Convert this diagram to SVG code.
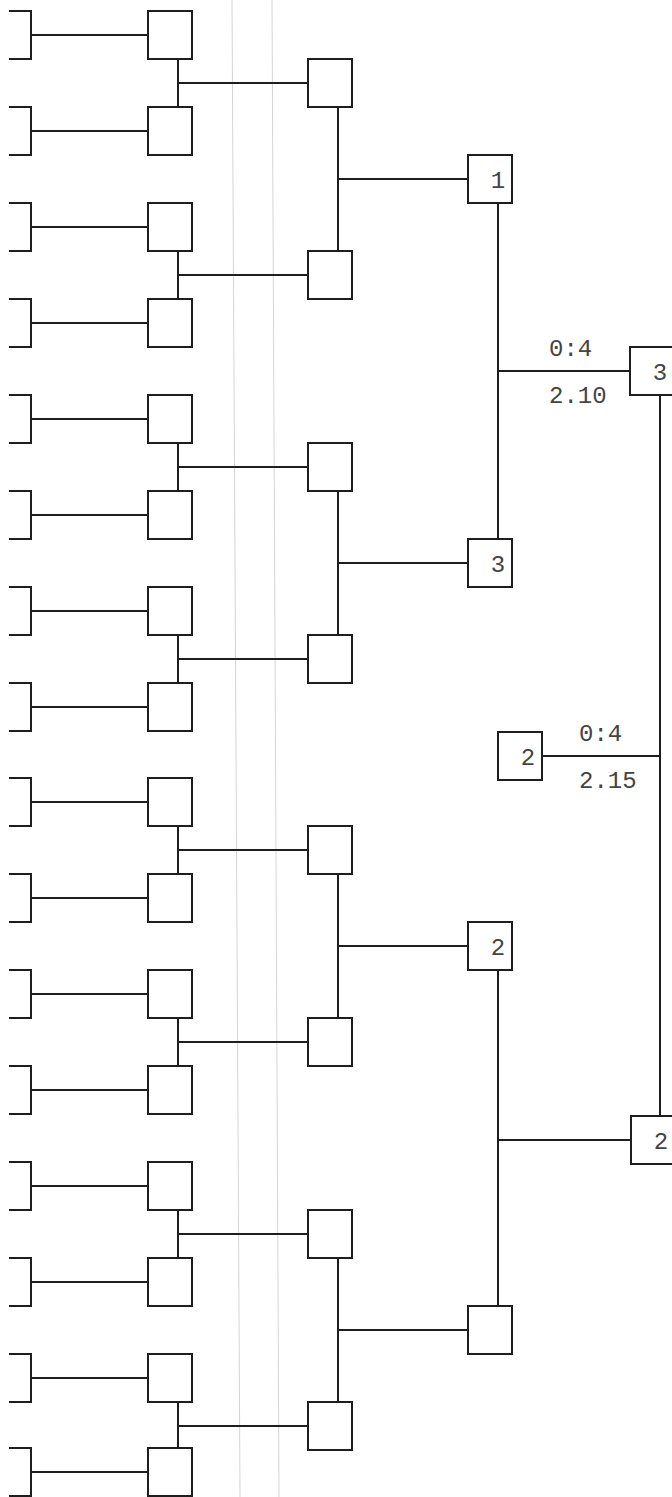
<svg xmlns="http://www.w3.org/2000/svg" width="672" height="1497" viewBox="0 0 672 1497">
<style>
.bg{fill:#ffffff}
.fold{stroke:#d4d4d4;stroke-width:1;fill:none}
.ln{stroke:#1e1e1e;stroke-width:2;fill:none}
.box{fill:#ffffff;stroke:#1e1e1e;stroke-width:2}
.num{font-family:"Liberation Mono","DejaVu Sans Mono",monospace;font-size:24px;fill:#444444;text-anchor:middle}
.lbl{font-family:"Liberation Mono","DejaVu Sans Mono",monospace;font-size:24px;fill:#444444}
</style>
<defs>
<rect id="b" width="44" height="48"/>
<path id="br" d="M9,0H31V48H9M31,24H148"/>
</defs>
<rect class="bg" x="0" y="0" width="672" height="1497"/>
<line class="fold" x1="232" y1="0" x2="240" y2="1497"/>
<line class="fold" x1="272" y1="0" x2="279" y2="1497"/>
<g id="connectors">
<use href="#br" class="ln" x="0" y="11"/>
<use href="#br" class="ln" x="0" y="107"/>
<use href="#br" class="ln" x="0" y="203"/>
<use href="#br" class="ln" x="0" y="299"/>
<use href="#br" class="ln" x="0" y="395"/>
<use href="#br" class="ln" x="0" y="491"/>
<use href="#br" class="ln" x="0" y="587"/>
<use href="#br" class="ln" x="0" y="683"/>
<use href="#br" class="ln" x="0" y="778"/>
<use href="#br" class="ln" x="0" y="874"/>
<use href="#br" class="ln" x="0" y="970"/>
<use href="#br" class="ln" x="0" y="1066"/>
<use href="#br" class="ln" x="0" y="1162"/>
<use href="#br" class="ln" x="0" y="1258"/>
<use href="#br" class="ln" x="0" y="1354"/>
<use href="#br" class="ln" x="0" y="1448"/>
<path class="ln" d="M178,59V107M178,83H308"/>
<path class="ln" d="M178,251V299M178,275H308"/>
<path class="ln" d="M178,443V491M178,467H308"/>
<path class="ln" d="M178,635V683M178,659H308"/>
<path class="ln" d="M178,826V874M178,850H308"/>
<path class="ln" d="M178,1018V1066M178,1042H308"/>
<path class="ln" d="M178,1210V1258M178,1234H308"/>
<path class="ln" d="M178,1402V1448M178,1426H308"/>
<path class="ln" d="M338,107V251M338,179H468"/>
<path class="ln" d="M338,491V635M338,563H468"/>
<path class="ln" d="M338,874V1018M338,946H468"/>
<path class="ln" d="M338,1258V1402M338,1330H468"/>
<path class="ln" d="M498,203V539M498,371H630"/>
<path class="ln" d="M498,970V1306M498,1140H631"/>
<path class="ln" d="M660,395V1116"/>
<path class="ln" d="M542,756H660"/>
<text class="lbl" x="549" y="356">0:4</text>
<text class="lbl" x="549" y="403">2.10</text>
<text class="lbl" x="579" y="741">0:4</text>
<text class="lbl" x="579" y="788">2.15</text>
</g>
<g id="r1">
<g id="r1-1"><use href="#b" class="box" x="148" y="11"/></g>
<g id="r1-2"><use href="#b" class="box" x="148" y="107"/></g>
<g id="r1-3"><use href="#b" class="box" x="148" y="203"/></g>
<g id="r1-4"><use href="#b" class="box" x="148" y="299"/></g>
<g id="r1-5"><use href="#b" class="box" x="148" y="395"/></g>
<g id="r1-6"><use href="#b" class="box" x="148" y="491"/></g>
<g id="r1-7"><use href="#b" class="box" x="148" y="587"/></g>
<g id="r1-8"><use href="#b" class="box" x="148" y="683"/></g>
<g id="r1-9"><use href="#b" class="box" x="148" y="778"/></g>
<g id="r1-10"><use href="#b" class="box" x="148" y="874"/></g>
<g id="r1-11"><use href="#b" class="box" x="148" y="970"/></g>
<g id="r1-12"><use href="#b" class="box" x="148" y="1066"/></g>
<g id="r1-13"><use href="#b" class="box" x="148" y="1162"/></g>
<g id="r1-14"><use href="#b" class="box" x="148" y="1258"/></g>
<g id="r1-15"><use href="#b" class="box" x="148" y="1354"/></g>
<g id="r1-16"><use href="#b" class="box" x="148" y="1448"/></g>
</g>
<g id="r2">
<g id="r2-1"><use href="#b" class="box" x="308" y="59"/></g>
<g id="r2-2"><use href="#b" class="box" x="308" y="251"/></g>
<g id="r2-3"><use href="#b" class="box" x="308" y="443"/></g>
<g id="r2-4"><use href="#b" class="box" x="308" y="635"/></g>
<g id="r2-5"><use href="#b" class="box" x="308" y="826"/></g>
<g id="r2-6"><use href="#b" class="box" x="308" y="1018"/></g>
<g id="r2-7"><use href="#b" class="box" x="308" y="1210"/></g>
<g id="r2-8"><use href="#b" class="box" x="308" y="1402"/></g>
</g>
<g id="r3">
<g id="r3-1"><use href="#b" class="box" x="468" y="155"/><text class="num" x="498" y="188">1</text></g>
<g id="r3-2"><use href="#b" class="box" x="468" y="539"/><text class="num" x="498" y="572">3</text></g>
<g id="r3-3"><use href="#b" class="box" x="468" y="922"/><text class="num" x="498" y="955">2</text></g>
<g id="r3-4"><use href="#b" class="box" x="468" y="1306"/></g>
</g>
<g id="r4">
<g id="r4-1"><use href="#b" class="box" x="630" y="347"/><text class="num" x="660" y="380">3</text></g>
<g id="r4-2"><use href="#b" class="box" x="631" y="1116"/><text class="num" x="661" y="1149">2</text></g>
<g id="side"><use href="#b" class="box" x="498" y="732"/><text class="num" x="528" y="765">2</text></g>
</g>
</svg>
